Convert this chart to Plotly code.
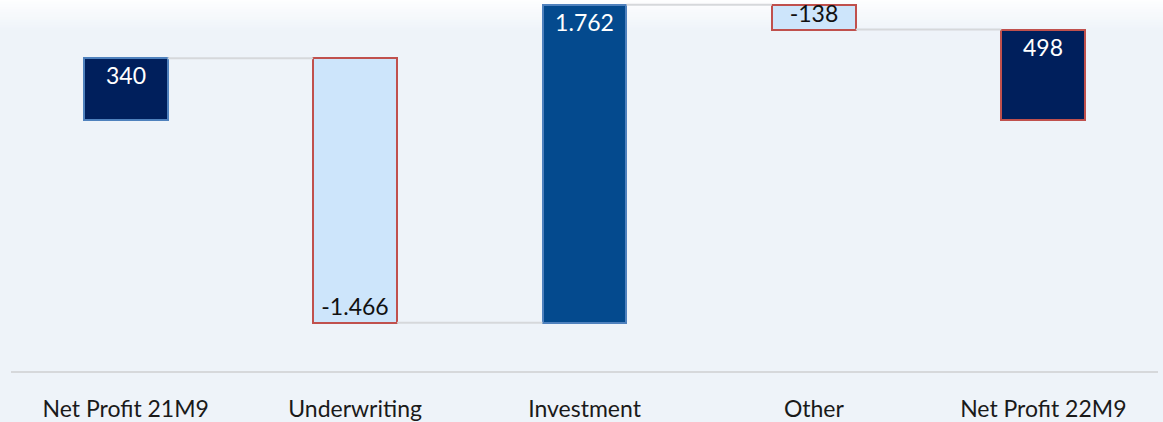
import plotly.graph_objects as go

# Net profit bridge: 21M9 -> 22M9
categories = ["Net Profit 21M9", "Underwriting", "Investment", "Other", "Net Profit 22M9"]
values = [340, -1466, 1762, -138, 498]
kinds = ["total", "delta", "delta", "delta", "total"]

fill_colors = ["#001f5c", "#cde5fb", "#044a8e", "#cde5fb", "#001f5c"]
edge_colors = ["#4f81bd", "#c0504d", "#4f81bd", "#c0504d", "#c0504d"]
text_colors = ["#ffffff", "#111111", "#ffffff", "#111111", "#ffffff"]

# bar bases: totals start at zero, deltas start where the previous bar ended
bases, ends = [], []
running = 0
for v, k in zip(values, kinds):
    start = 0 if k == "total" else running
    bases.append(start)
    running = start + v
    ends.append(running)

xpos = list(range(len(categories)))
bar_w = 0.366

fig = go.Figure()

# connector lines between consecutive bars
for i in range(len(categories) - 1):
    fig.add_trace(go.Scatter(
        x=[xpos[i] + bar_w / 2, xpos[i + 1] - bar_w / 2],
        y=[ends[i], ends[i]],
        mode="lines",
        line=dict(color="#d6d8db", width=2),
        hoverinfo="skip",
        showlegend=False,
    ))

fig.add_trace(go.Bar(
    x=xpos,
    y=values,
    base=bases,
    width=bar_w,
    marker=dict(color=fill_colors, line=dict(color=edge_colors, width=2)),
    texttemplate="%{y:,}",
    textposition="inside",
    insidetextanchor="end",
    constraintext="none",
    textfont=dict(family="Lato, Open Sans, sans-serif", size=23, color=text_colors),
    showlegend=False,
))

# soft white-to-blue fade across the top of the canvas
top_px = 371.0
steps = 14
for s in range(steps):
    t = s / (steps - 1)
    r = round(255 + (238 - 255) * t)
    g = round(255 + (243 - 255) * t)
    b = round(255 + (249 - 255) * t)
    y_hi = 1 - (s * 2.6) / top_px
    y_lo = 1 - ((s + 1) * 2.6) / top_px
    fig.add_shape(type="rect", xref="paper", yref="paper",
                  x0=-0.02, x1=1.02, y0=y_lo, y1=y_hi + 0.01,
                  fillcolor=f"rgb({r},{g},{b})", line=dict(width=0), layer="below")

fig.update_layout(
    width=1163,
    height=422,
    margin=dict(l=11, r=5, t=0, b=51),
    paper_bgcolor="#eef3f9",
    plot_bgcolor="rgba(0,0,0,0)",
    separators=",.",
    bargap=0,
    xaxis=dict(
        range=[-0.5, 4.5],
        tickmode="array",
        tickvals=xpos,
        ticktext=categories,
        showline=True,
        linecolor="#d6d8db",
        linewidth=2,
        showgrid=False,
        zeroline=False,
        ticks="",
        ticklabelstandoff=16,
        tickfont=dict(family="Lato, Open Sans, sans-serif", size=23, color="#1a1a1a"),
        fixedrange=True,
    ),
    yaxis=dict(
        range=[-1393, 662],
        visible=False,
        showgrid=False,
        zeroline=False,
        fixedrange=True,
    ),
)

fig.write_html("out.html")
